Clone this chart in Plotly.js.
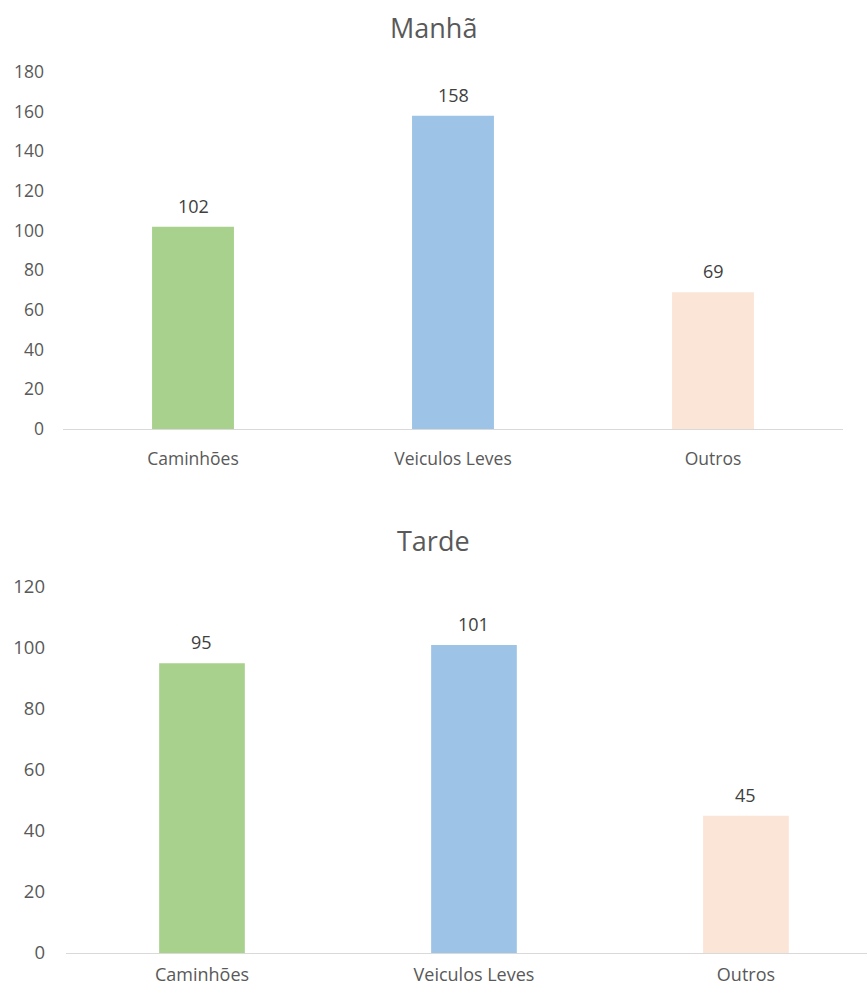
<!DOCTYPE html>
<html>
<head>
<meta charset="utf-8">
<script src="https://cdn.plot.ly/plotly-3.0.1.min.js"></script>
<style>html,body{margin:0;padding:0;background:#fff;}</style>
</head>
<body>
<div id="chart" style="width:867px;height:990px;"></div>
<script>
const categories = ["Caminhões", "Veiculos Leves", "Outros"];
const manhaValues = [102, 158, 69];
const tardeValues = [95, 101, 45];
const barColors = ["#A9D18E", "#9DC3E6", "#FBE5D6"];
const manhaTicks = [0, 20, 40, 60, 80, 100, 120, 140, 160, 180];
const tardeTicks = [0, 20, 40, 60, 80, 100, 120];
const titles = ["Manhã", "Tarde"];

const font = "Open Sans, Noto Sans, sans-serif";
const grey = "#595959";

const traces = [
  {type: "bar", x: categories, y: manhaValues, marker: {color: barColors}, xaxis: "x", yaxis: "y", hoverinfo: "none"},
  {type: "bar", x: categories, y: tardeValues, marker: {color: barColors}, xaxis: "x2", yaxis: "y2", hoverinfo: "none"}
];

const annotations = [];
categories.forEach((c, i) => {
  annotations.push({x: c, y: manhaValues[i], xref: "x", yref: "y", text: String(manhaValues[i]), showarrow: false, yshift: 21, font: {family: font, size: 18, color: "#404040"}});
  annotations.push({x: c, y: tardeValues[i], xref: "x2", yref: "y2", text: String(tardeValues[i]), showarrow: false, yshift: 21, font: {family: font, size: 18, color: "#404040"}});
});
annotations.push({text: titles[0], x: 0.5, y: 1 - 28/990, xref: "paper", yref: "paper", showarrow: false, xanchor: "center", yanchor: "middle", font: {family: font, size: 27, color: grey}});
annotations.push({text: titles[1], x: 0.5, y: 1 - 540/990, xref: "paper", yref: "paper", showarrow: false, xanchor: "center", yanchor: "middle", font: {family: font, size: 27, color: grey}});

const layout = {
  width: 867, height: 990,
  margin: {l: 0, r: 0, t: 0, b: 0},
  paper_bgcolor: "#fff", plot_bgcolor: "#fff",
  showlegend: false,
  bargap: 0.685,
  xaxis: {domain: [63/867, 843/867], anchor: "y", showline: true, linecolor: "#D9D9D9", linewidth: 1, ticks: "", showgrid: false, zeroline: false,
          tickfont: {family: font, size: 17.5, color: grey}, ticklabelstandoff: 14, range: [-0.5, 2.5]},
  yaxis: {domain: [1 - 429/990, 1 - 72/990], anchor: "x", range: [0, 180], tickvals: manhaTicks, showgrid: false, zeroline: false, showline: false,
          tickfont: {family: font, size: 17.5, color: grey}, ticklabelstandoff: 18},
  xaxis2: {domain: [66/867, 1], anchor: "y2", showline: true, linecolor: "#D9D9D9", linewidth: 1, ticks: "", showgrid: false, zeroline: false,
          tickfont: {family: font, size: 18, color: grey}, ticklabelstandoff: 5, range: [-0.5, 2.445]},
  yaxis2: {domain: [1 - 953/990, 1 - 587/990], anchor: "x2", range: [0, 120], tickvals: tardeTicks, showgrid: false, zeroline: false, showline: false,
          tickfont: {family: font, size: 18.5, color: grey}, ticklabelstandoff: 20},
  annotations: annotations
};

Plotly.newPlot("chart", traces, layout, {staticPlot: true, displayModeBar: false});
</script>
</body>
</html>
